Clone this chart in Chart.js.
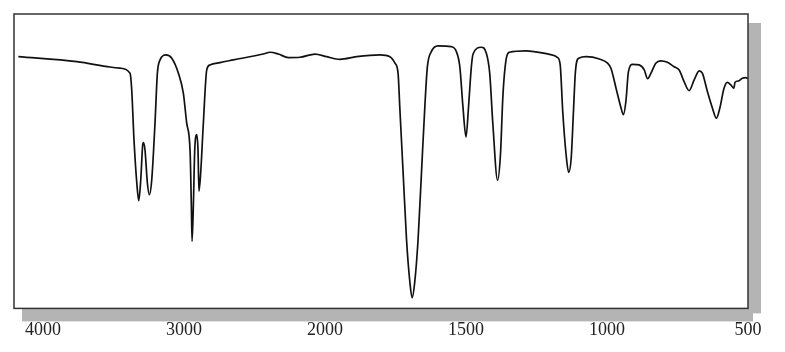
<!DOCTYPE html>
<html><head><meta charset="utf-8">
<script src="https://cdn.jsdelivr.net/npm/chart.js@4/dist/chart.umd.min.js"></script>
<style>html,body{margin:0;padding:0;background:#fff}#wrap{width:785px;height:352px}</style>
</head><body><div id="wrap"><canvas id="c" width="785" height="352"></canvas></div>
<script>
// IR spectrum: wavenumber (cm^-1) and % transmittance
const wavenumbers = [4175,3761,3525,3454,3383,3371,3355,3335,3321,3307,3293,3288,3277,3260,3246,3229,3206,3189,3170,3128,3087,3040,3005,2981,2957,2948,2943,2934,2924,2910,2901,2894,2882,2863,2839,2816,2745,2650,2438,2390,2331,2260,2177,2071,1994,1947,1888,1805,1770,1752,1741,1735,1723,1711,1699,1691,1682,1670,1658,1646,1637,1623,1599,1552,1534,1522,1511,1500,1491,1481,1475,1446,1428,1416,1405,1388,1378,1369,1357,1346,1287,1204,1175,1166,1157,1145,1136,1127,1119,1112,1100,1074,1027,998,986,968,950,942,933,924,909,886,868,856,844,827,809,786,762,744,727,709,691,673,662,644,626,612,600,585,573,561,550,546,532,520,508,500];
const transmittance = [85.5,83.8,82.0,81.6,79.9,74.2,57.3,42.6,36.6,43.7,55.6,56.3,53.9,42.6,38.6,43.7,62.9,79.9,84.4,86.1,85.0,79.9,73.1,62.9,53.3,34.7,22.8,34.7,53.9,59.0,53.9,39.8,46.0,62.9,81.0,82.7,83.5,84.4,86.4,87.0,86.4,85.2,85.3,86.4,85.5,84.6,85.5,86.1,85.5,83.3,79.9,68.6,46.0,23.4,8.8,3.6,8.8,23.4,46.0,68.6,82.1,87.2,89.2,88.9,87.2,82.1,68.6,58.2,68.6,82.1,86.4,88.7,86.7,79.9,62.9,43.5,52.0,72.5,85.0,87.0,87.5,86.3,85.2,82.7,66.9,52.2,46.2,51.1,66.9,80.4,85.0,85.5,84.7,83.3,81.6,74.8,68.0,65.8,70.3,80.4,82.9,82.7,81.0,78.0,79.9,83.3,84.1,83.6,82.1,81.0,77.1,74.0,77.6,80.7,79.9,73.7,68.0,64.6,68.0,74.8,76.8,75.9,74.8,76.8,77.3,78.2,78.4,78.0];
const tickWavenumbers = [4000,3000,2000,1500,1000,500];
const tickLabels = ['4000','3000','2000','1500','1000','500'];

// split axis: 4000-2000 at half the scale of 2000-500
function axisPos(wn){ return wn >= 2000 ? (4000 - wn) / 2 : 1000 + (2000 - wn); }

const points = wavenumbers.map((w, i) => ({x: axisPos(w), y: transmittance[i]}));

const framePlugin = {
  id: 'frame',
  beforeDraw(chart) {
    const {ctx, chartArea: a} = chart;
    ctx.save();
    ctx.fillStyle = '#b4b4b4';
    ctx.fillRect(a.left + 8, a.top + 9, a.right - a.left - 3, a.bottom - a.top + 4);
    ctx.fillRect(a.left + 8, a.top + 9, a.right - a.left + 5, a.bottom - a.top - 4);
    ctx.fillStyle = '#ffffff';
    ctx.fillRect(a.left, a.top, a.right - a.left, a.bottom - a.top);
    ctx.restore();
  },
  afterDatasetsDraw(chart) {
    const {ctx, chartArea: a} = chart;
    ctx.save();
    ctx.strokeStyle = '#333';
    ctx.lineWidth = 1.5;
    ctx.strokeRect(a.left, a.top, a.right - a.left, a.bottom - a.top);
    ctx.restore();
  }
};

new Chart(document.getElementById('c'), {
  type: 'line',
  data: { datasets: [{
    data: points,
    borderColor: '#111',
    borderWidth: 1.7,
    pointRadius: 0,
    fill: false,
    cubicInterpolationMode: 'monotone'
  }]},
  options: {
    responsive: false,
    devicePixelRatio: 1,
    animation: false,
    layout: { padding: { left: 14, right: 37, top: 14, bottom: 0 } },
    plugins: { legend: { display: false }, tooltip: { enabled: false } },
    scales: {
      x: {
        type: 'linear', min: -103, max: 2500,
        grid: { display: false, drawTicks: false },
        border: { display: false },
        afterBuildTicks(scale) { scale.ticks = tickWavenumbers.map(w => ({ value: axisPos(w) })); },
        ticks: {
          autoSkip: false, maxRotation: 0, padding: 11,
          color: '#222',
          font: { family: '"Liberation Serif", "DejaVu Serif", serif', size: 18 },
          callback: (v, i) => tickLabels[i]
        }
      },
      y: { display: false, min: 0, max: 100 }
    }
  },
  plugins: [framePlugin]
});
</script></body></html>
